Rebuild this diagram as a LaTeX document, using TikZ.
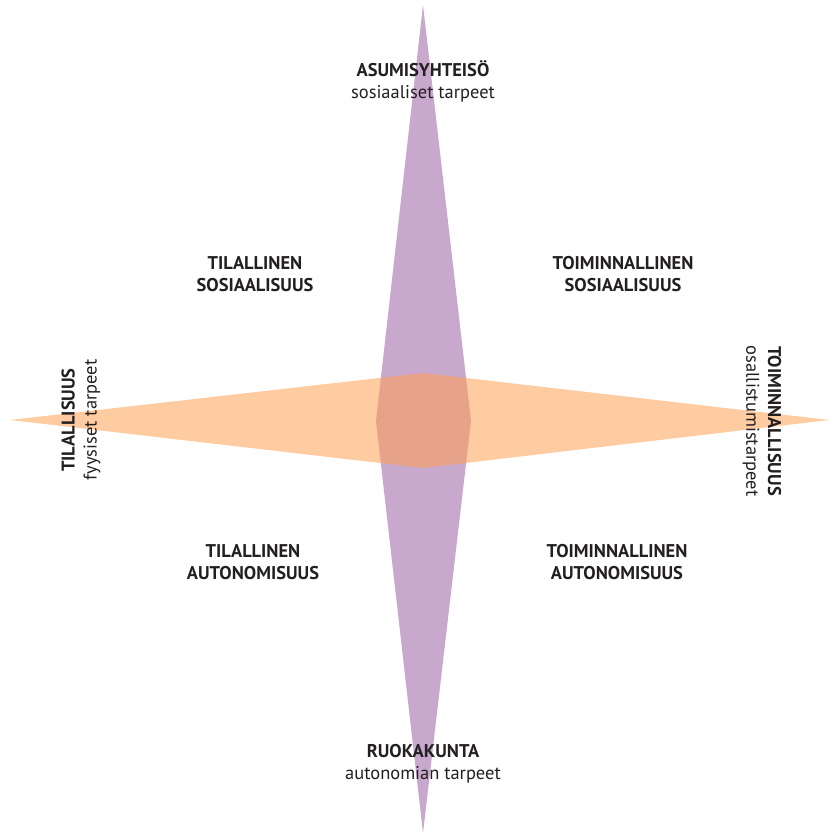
\documentclass[tikz,border=0pt]{standalone}
\usepackage{fontspec}
\setmainfont{PT Sans}
\usetikzlibrary{positioning}
\definecolor{ink}{RGB}{35,31,32}
\definecolor{lila}{RGB}{147,82,155}
\definecolor{oranssi}{RGB}{255,160,82}
\tikzset{
  lbl/.style={align=center,text=ink,font=\fontsize{10.5}{12.5}\selectfont,inner sep=0pt},
}
\newcommand{\otsikko}[1]{\textbf{#1}}

\begin{document}
\begin{tikzpicture}[x=0.02cm,y=-0.02cm]
\useasboundingbox (0,0) rectangle (829,835);
% pystysuora vinoneliö
\fill[lila,fill opacity=0.5] (423,5) -- (471,421) -- (423,833) -- (376,421) -- cycle;
% vaakasuora vinoneliö
\fill[oranssi,fill opacity=0.55] (10,420) -- (423,373) -- (829,420) -- (423,468) -- cycle;
% akselien päät
\node[lbl] (asu) at (423,81) {\otsikko{ASUMISYHTEISÖ}\\sosiaaliset tarpeet};
\node[lbl] (ruoka) at (423,764) {\otsikko{RUOKAKUNTA}\\autonomian tarpeet};
\node[lbl,rotate=90] (tila) at (81,420) {\otsikko{TILALLISUUS}\\fyysiset tarpeet};
\node[lbl,rotate=-90] (toim) at (762,421) {\otsikko{TOIMINNALLISUUS}\\osallistumistarpeet};
% neljännekset
\node[lbl] (tsos) at (255,274) {\otsikko{TILALLINEN}\\\otsikko{SOSIAALISUUS}};
\node[lbl] (osos) at (623,274) {\otsikko{TOIMINNALLINEN}\\\otsikko{SOSIAALISUUS}};
\node[lbl] (taut) at (253,562) {\otsikko{TILALLINEN}\\\otsikko{AUTONOMISUUS}};
\node[lbl] (oaut) at (617,562) {\otsikko{TOIMINNALLINEN}\\\otsikko{AUTONOMISUUS}};
\end{tikzpicture}
\end{document}
